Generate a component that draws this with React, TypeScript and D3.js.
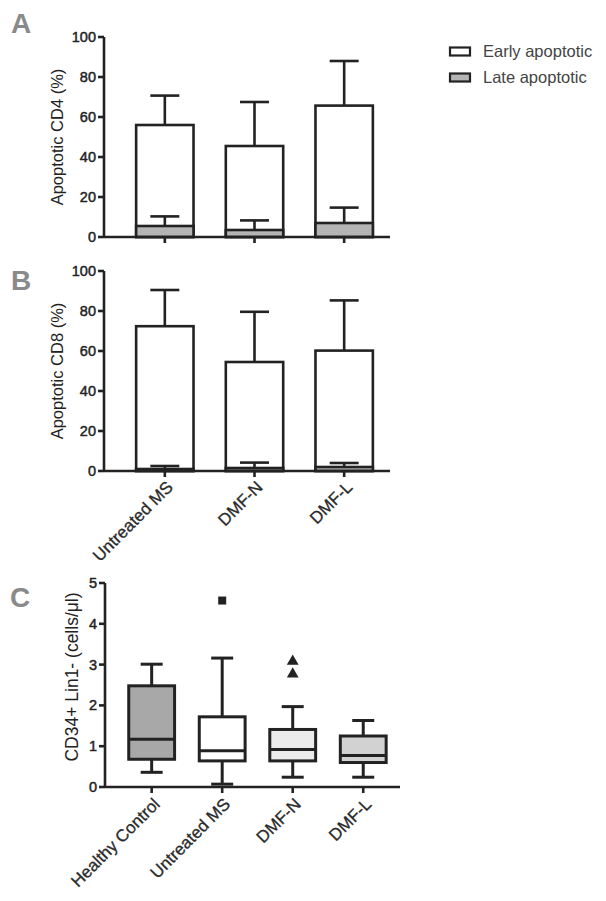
import React from "react";
import * as d3 from "d3";

const groupsAB = ["Untreated MS", "DMF-N", "DMF-L"];
const earlyCD4 = [56, 45.5, 65.7];
const earlyCD4Err = [70.7, 67.5, 88];
const lateCD4 = [5.5, 3.5, 7];
const lateCD4Err = [10.3, 8.3, 14.7];
const earlyCD8 = [72.4, 54.5, 60.2];
const earlyCD8Err = [90.5, 79.6, 85.3];
const lateCD8 = [1, 1.5, 2];
const lateCD8Err = [2.5, 4.2, 4];
const seriesLabels = ["Early apoptotic", "Late apoptotic"];

const groupsC = ["Healthy Control", "Untreated MS", "DMF-N", "DMF-L"];
const whiskerLow = [0.36, 0.07, 0.24, 0.24];
const q1 = [0.68, 0.64, 0.64, 0.6];
const median = [1.17, 0.89, 0.92, 0.77];
const q3 = [2.48, 1.72, 1.41, 1.25];
const whiskerHigh = [3.01, 3.16, 1.97, 1.63];
const boxFills = ["#a8a8a8", "#ffffff", "#ececec", "#d2d2d2"];
const outlierGroups = ["Untreated MS", "DMF-N", "DMF-N"];
const outlierValues = [4.57, 3.08, 2.77];
const outlierShapes = ["square", "triangle", "triangle"];

const FONT = "'Liberation Sans', Arial, sans-serif";
const INK = "#222";
const SW = 2.6;

const tickTextProps = { fontFamily: FONT, fontSize: 14.5, fill: INK, stroke: INK, strokeWidth: 0.45 };
const xLabelProps = { fontFamily: FONT, fontSize: 17, fill: "#2a2a2a", stroke: "#2a2a2a", strokeWidth: 0.3 };

function BarPanel({ yTop, yBottom, early, earlyErr, late, lateErr, title, showX }: any) {
  const x = d3.scaleBand<string>().domain(groupsAB).range([120, 389]).paddingInner(0.36).paddingOuter(0.18);
  const y = d3.scaleLinear().domain([0, 100]).range([yBottom, yTop]);
  const cap = 14.5;
  return (
    <g>
      {groupsAB.map((g, i) => {
        const x0 = x(g)!;
        const cx = x0 + x.bandwidth() / 2;
        return (
          <g key={g}>
            <line x1={cx} x2={cx} y1={y(early[i])} y2={y(earlyErr[i])} stroke={INK} strokeWidth={SW} />
            <line x1={cx - cap} x2={cx + cap} y1={y(earlyErr[i])} y2={y(earlyErr[i])} stroke={INK} strokeWidth={SW} />
            <rect x={x0} y={y(early[i])} width={x.bandwidth()} height={y(0) - y(early[i])} fill="#fff" stroke={INK} strokeWidth={SW} />
            <line x1={cx} x2={cx} y1={y(late[i])} y2={y(lateErr[i])} stroke={INK} strokeWidth={SW} />
            <line x1={cx - cap} x2={cx + cap} y1={y(lateErr[i])} y2={y(lateErr[i])} stroke={INK} strokeWidth={SW} />
            <rect x={x0} y={y(late[i])} width={x.bandwidth()} height={y(0) - y(late[i])} fill="#b4b4b4" stroke={INK} strokeWidth={SW} />
            <line x1={cx} x2={cx} y1={yBottom} y2={yBottom + 6} stroke={INK} strokeWidth={SW} />
            {showX && (
              <text transform={`translate(${cx + 5},${yBottom + 13}) rotate(-45)`} textAnchor="end" dy="0.35em" {...xLabelProps}>{g}</text>
            )}
          </g>
        );
      })}
      <line x1={104} x2={390} y1={yBottom} y2={yBottom} stroke={INK} strokeWidth={SW} />
      <line x1={104} x2={104} y1={yTop} y2={yBottom} stroke={INK} strokeWidth={SW} />
      {y.ticks(5).map((t) => (
        <g key={t}>
          <line x1={98} x2={104} y1={y(t)} y2={y(t)} stroke={INK} strokeWidth={SW} />
          <text x={96} y={y(t)} dy="0.35em" textAnchor="end" {...tickTextProps}>{t}</text>
        </g>
      ))}
      <text transform={`translate(63,${(yTop + yBottom) / 2}) rotate(-90)`} textAnchor="middle"
        fontFamily={FONT} fontSize={16.5} fill={INK}>{title}</text>
    </g>
  );
}

function BoxPanel() {
  const x = d3.scaleBand<string>().domain(groupsC).range([116.4, 398.5]).paddingInner(0.35).paddingOuter(0.175);
  const y = d3.scaleLinear().domain([0, 5]).range([787, 583]);
  const cap = 11;
  const tri = d3.symbol().type(d3.symbolTriangle).size(60);
  return (
    <g>
      {groupsC.map((g, i) => {
        const x0 = x(g)!;
        const cx = x0 + x.bandwidth() / 2;
        return (
          <g key={g}>
            <line x1={cx} x2={cx} y1={y(whiskerLow[i])} y2={y(whiskerHigh[i])} stroke={INK} strokeWidth={3} />
            <line x1={cx - cap} x2={cx + cap} y1={y(whiskerHigh[i])} y2={y(whiskerHigh[i])} stroke={INK} strokeWidth={3} />
            <line x1={cx - cap} x2={cx + cap} y1={y(whiskerLow[i])} y2={y(whiskerLow[i])} stroke={INK} strokeWidth={3} />
            <rect x={x0} y={y(q3[i])} width={x.bandwidth()} height={y(q1[i]) - y(q3[i])} fill={boxFills[i]} stroke={INK} strokeWidth={3} />
            <line x1={x0} x2={x0 + x.bandwidth()} y1={y(median[i])} y2={y(median[i])} stroke={INK} strokeWidth={3} />
            <line x1={cx} x2={cx} y1={787} y2={793} stroke={INK} strokeWidth={SW} />
            <text transform={`translate(${cx + 5},${787 + 14}) rotate(-45)`} textAnchor="end" dy="0.35em" {...xLabelProps}>{g}</text>
          </g>
        );
      })}
      {outlierValues.map((v, i) => {
        const cx = x(outlierGroups[i])! + x.bandwidth() / 2;
        return outlierShapes[i] === "square" ? (
          <rect key={i} x={cx - 4} y={y(v) - 4} width={8} height={8} fill={INK} />
        ) : (
          <path key={i} d={tri()!} transform={`translate(${cx},${y(v)})`} fill={INK} />
        );
      })}
      <line x1={105} x2={400} y1={787} y2={787} stroke={INK} strokeWidth={SW} />
      <line x1={105} x2={105} y1={583} y2={787} stroke={INK} strokeWidth={SW} />
      {y.ticks(5).map((t) => (
        <g key={t}>
          <line x1={99} x2={105} y1={y(t)} y2={y(t)} stroke={INK} strokeWidth={SW} />
          <text x={97} y={y(t)} dy="0.35em" textAnchor="end" {...tickTextProps}>{t}</text>
        </g>
      ))}
      <text transform={`translate(78,677) rotate(-90)`} textAnchor="middle"
        fontFamily={FONT} fontSize={17.5} fill={INK}>CD34+ Lin1- (cells/μl)</text>
    </g>
  );
}

export default function App() {
  return (
    <svg width={606} height={901} style={{ position: "absolute", left: 0, top: 0, background: "#fff" }}>
      <rect width={606} height={901} fill="#fff" />
      <text x={11} y={33} fontFamily={FONT} fontSize={28} fontWeight="bold" fill="#8a8a8a">A</text>
      <text x={11} y={290} fontFamily={FONT} fontSize={28} fontWeight="bold" fill="#8a8a8a">B</text>
      <text x={10} y={607} fontFamily={FONT} fontSize={28} fontWeight="bold" fill="#8a8a8a">C</text>
      <BarPanel yTop={37} yBottom={237} early={earlyCD4} earlyErr={earlyCD4Err} late={lateCD4} lateErr={lateCD4Err}
        title="Apoptotic CD4 (%)" showX={false} />
      <BarPanel yTop={271} yBottom={471} early={earlyCD8} earlyErr={earlyCD8Err} late={lateCD8} lateErr={lateCD8Err}
        title="Apoptotic CD8 (%)" showX={true} />
      <BoxPanel />
      {seriesLabels.map((s, i) => (
        <g key={s}>
          <rect x={450} y={47.5 + i * 26} width={20} height={8} fill={i === 0 ? "#fff" : "#b4b4b4"} stroke={INK} strokeWidth={2.2} />
          <text x={483} y={56.5 + i * 26} fontFamily={FONT} fontSize={16.5} fill="#444">{s}</text>
        </g>
      ))}
    </svg>
  );
}
